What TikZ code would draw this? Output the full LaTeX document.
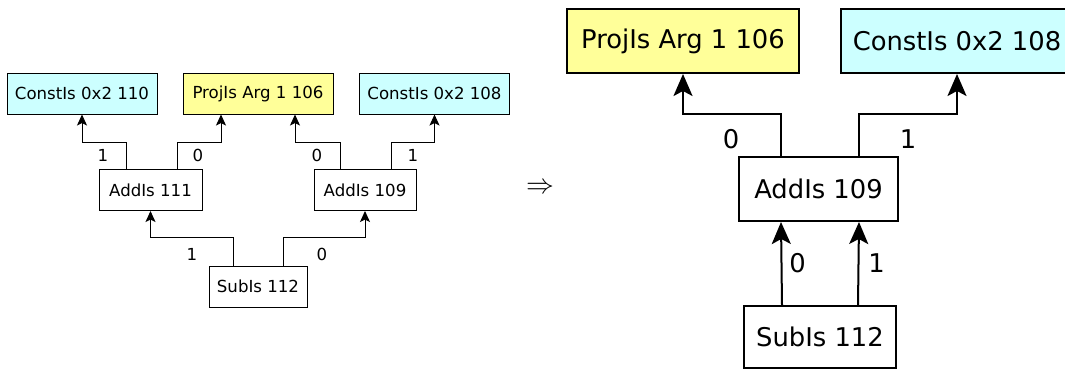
\documentclass[tikz,border=0pt]{standalone}
\usepackage{fontspec}
\setmainfont{DejaVu Sans}
\usetikzlibrary{arrows.meta}
\definecolor{constcol}{HTML}{CCFFFF}
\definecolor{projcol}{HTML}{FFFF99}

\begin{document}
\begin{tikzpicture}[x=1pt,y=1pt,
  small node/.style={draw,line width=1pt,inner sep=0pt,minimum height=41pt,font=\fontsize{16.6}{20}\selectfont},
  big node/.style={draw,line width=2pt,inner sep=0pt,minimum height=64pt,font=\fontsize{25.8}{30}\selectfont},
  const fill/.style={fill=constcol},proj fill/.style={fill=projcol},
  small edge/.style={->,>={Stealth[length=11pt,width=10pt,inset=2.5pt]},line width=1pt,
    every node/.style={font=\fontsize{16.6}{20}\selectfont}},
  big edge/.style={->,>={Stealth[length=22pt,width=19pt,inset=5pt]},line width=2pt,
    every node/.style={font=\fontsize{25.8}{30}\selectfont}}]

  \useasboundingbox (0,0) rectangle (1065,-369);
  \clip (0,0) rectangle (1065,-369);

  % before
  \node[small node,const fill,minimum width=150pt] (c110) at (82,-93.5) {ConstIs 0x2 110};
  \node[small node,proj fill,minimum width=150pt]  (p106) at (258,-93.5) {ProjIs Arg 1 106};
  \node[small node,const fill,minimum width=150pt] (c108) at (434.5,-93.5) {ConstIs 0x2 108};
  \node[small node,minimum width=103pt] (a111) at (150.5,-190) {AddIs 111};
  \node[small node,minimum width=102pt] (a109) at (365,-190) {AddIs 109};
  \node[small node,minimum width=98pt]  (s112) at (258,-286.5) {SubIs 112};

  \draw[small edge] ([xshift=-24.5]a111.north) -- ++(0,27) node[midway,xshift=-23] {1} -| (c110.south);
  \draw[small edge] ([xshift=26.5]a111.north) -- ++(0,27) node[midway,xshift=21] {0} -| ([xshift=-37]p106.south);
  \draw[small edge] ([xshift=-25]a109.north) -- ++(0,27) node[midway,xshift=-23] {0} -| ([xshift=37]p106.south);
  \draw[small edge] ([xshift=26]a109.north) -- ++(0,27) node[midway,xshift=22] {1} -| (c108.south);
  \draw[small edge] ([xshift=-25]s112.north) -- ++(0,28) node[midway,xshift=-41,yshift=-3] {1} -| (a111.south);
  \draw[small edge] ([xshift=25]s112.north) -- ++(0,28) node[midway,xshift=39,yshift=-3] {0} -| (a109.south);

  \node[scale=1.12] (arr) at (540,-188) {\fontsize{24.88}{28}\selectfont$\Rightarrow$};

  % after
  \node[big node,proj fill,minimum width=232pt]  (rp106) at (683,-41) {ProjIs Arg 1 106};
  \node[big node,const fill,minimum width=232pt] (rc108) at (957,-41) {ConstIs 0x2 108};
  \node[big node,minimum width=159pt] (ra109) at (818.5,-189) {AddIs 109};
  \node[big node,minimum width=152pt,minimum height=62pt] (rs112) at (820,-337) {SubIs 112};

  \draw[big edge] ([xshift=-37.5]ra109.north) -- ++(0,42) node[midway,xshift=-50,yshift=-4] {0} -| (rp106.south);
  \draw[big edge] ([xshift=40.5]ra109.north) -- ++(0,42) node[midway,xshift=49,yshift=-4] {1} -| (rc108.south);
  \draw[big edge] ([xshift=-38]rs112.north) -- ([xshift=-37.5]ra109.south) node[midway,xshift=16] {0};
  \draw[big edge] ([xshift=38]rs112.north) -- ([xshift=40.5]ra109.south) node[midway,xshift=18] {1};
\end{tikzpicture}
\end{document}
